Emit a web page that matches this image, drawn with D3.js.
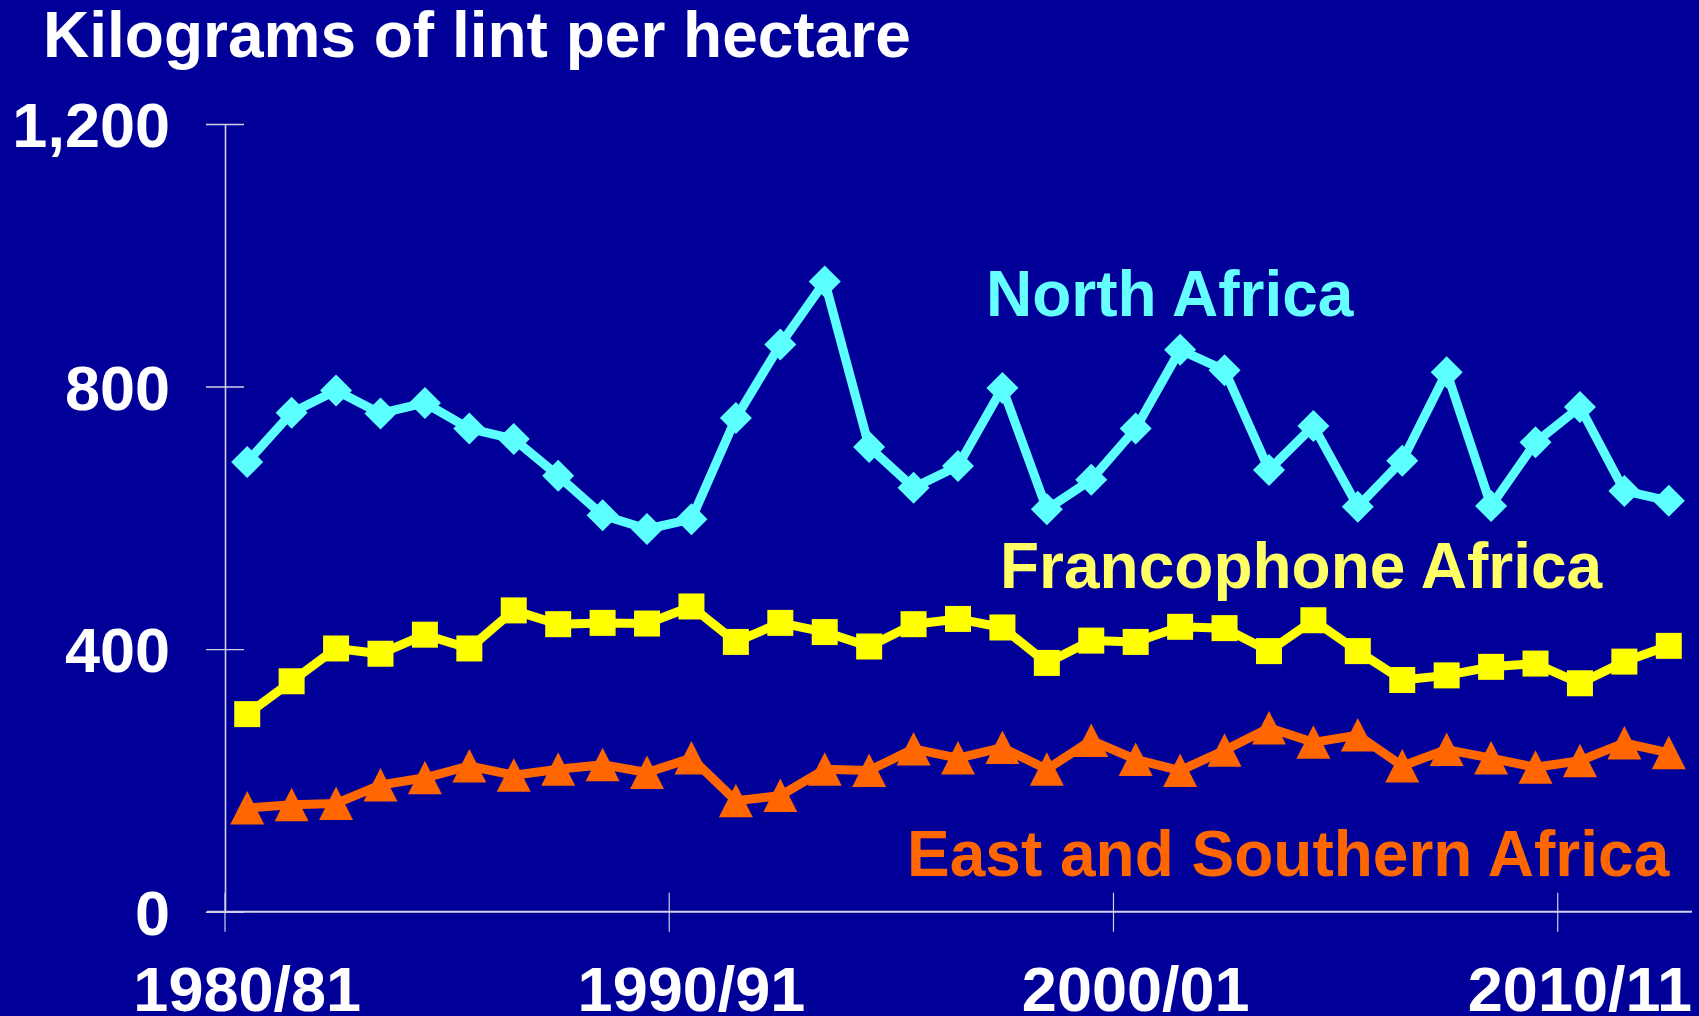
<!DOCTYPE html>
<html>
<head>
<meta charset="utf-8">
<script src="https://cdn.jsdelivr.net/npm/d3@7"></script>
<style>
  html, body { margin: 0; padding: 0; background: #000099; }
  svg { display: block; }
  text { font-family: "Liberation Sans", Arial, sans-serif; font-weight: bold; }
</style>
</head>
<body>
<svg id="viz"></svg>
<script>
const width = 1699;
const height = 1016;

const years = ["1980/81", "1981/82", "1982/83", "1983/84", "1984/85", "1985/86", "1986/87", "1987/88",
    "1988/89", "1989/90", "1990/91", "1991/92", "1992/93", "1993/94", "1994/95", "1995/96", "1996/97",
    "1997/98", "1998/99", "1999/00", "2000/01", "2001/02", "2002/03", "2003/04", "2004/05", "2005/06",
    "2006/07", "2007/08", "2008/09", "2009/10", "2010/11", "2011/12", "2012/13"];
const yearLabels = ["1980/81", "1990/91", "2000/01", "2010/11"];
const yTicks = [0, 400, 800, 1200];

const northAfrica = [685, 760, 794, 759, 775, 736, 720, 664, 604, 583, 598, 752, 864, 960, 708, 646, 679,
    798, 613, 658, 736, 856, 825, 673, 740, 617, 687, 822, 618, 715, 769, 641, 626];
const francophone = [301, 351, 401, 393, 422, 401, 459, 438, 440, 439, 465, 411, 440, 426, 404, 438, 446,
    433, 379, 413, 411, 434, 432, 397, 444, 397, 353, 360, 373, 378, 348, 381, 405];
const eastSouthern = [158, 163, 165, 193, 204, 222, 208, 217, 224, 212, 234, 169, 177, 217, 215, 248, 234,
    250, 217, 261, 232, 215, 246, 280, 258, 269, 222, 247, 234, 220, 230, 257, 242];

const series = [
    { name: "East and Southern Africa", values: eastSouthern, color: "#ff6600", text: "#ff6600", marker: "triangle", lx: 907, ly: 876 },
    { name: "Francophone Africa", values: francophone, color: "#ffff00", text: "#ffff66", marker: "square", lx: 1000, ly: 588 },
    { name: "North Africa", values: northAfrica, color: "#5cffff", text: "#66ffff", marker: "diamond", lx: 986, ly: 316 }
];

const x = d3.scaleBand().domain(years).range([225, 1691]);
const y = d3.scaleLinear().domain([0, 1200]).range([911.7, 124]);
const cx = d => x(d) + x.bandwidth() / 2;

const svg = d3.select("#viz").attr("width", width).attr("height", height);

svg.append("rect").attr("width", width).attr("height", height).attr("fill", "#000099");

// title
svg.append("text")
    .attr("x", 43).attr("y", 57)
    .attr("fill", "#ffffff").attr("font-size", 64)
    .text("Kilograms of lint per hectare");

const axisColor = "#d0d0e6";

// y axis, ticks cross the line
const yAxis = svg.append("g")
    .attr("transform", "translate(225,0)")
    .call(d3.axisLeft(y).tickValues(yTicks).tickFormat(d3.format(",")).tickSize(0).tickPadding(55));
yAxis.select(".domain").attr("stroke", axisColor).attr("stroke-width", 1.6);
yAxis.selectAll(".tick line").attr("x1", -19).attr("x2", 19).attr("stroke", axisColor).attr("stroke-width", 1.4);
yAxis.selectAll(".tick text")
    .attr("fill", "#ffffff").attr("font-size", 63)
    .attr("font-family", "Liberation Sans, Arial, sans-serif")
    .attr("dy", "0.36em");

// x axis, ticks sit on band edges, labels on band centres
const xAxis = svg.append("g")
    .attr("transform", "translate(0," + y(0) + ")")
    .call(d3.axisBottom(x).tickValues(yearLabels).tickSize(0).tickPadding(0).tickSizeOuter(0));
xAxis.select(".domain").attr("d", "M207,0H1692").attr("stroke", axisColor).attr("stroke-width", 2);
xAxis.selectAll(".tick line")
    .attr("x1", -x.bandwidth() / 2).attr("x2", -x.bandwidth() / 2)
    .attr("y1", -19).attr("y2", 20)
    .attr("stroke", axisColor).attr("stroke-width", 1.2);
xAxis.selectAll(".tick text")
    .attr("fill", "#ffffff").attr("font-size", 63)
    .attr("font-family", "Liberation Sans, Arial, sans-serif")
    .attr("y", 99).attr("dy", 0);

// marker shapes, sizes in px
function markerPath(type) {
    if (type === "diamond") return "M0,-16L16,0L0,16L-16,0Z";
    if (type === "square") return "M-13,-13H13V13H-13Z";
    return "M0,-17L17,16.5H-17Z";
}

const line = d3.line()
    .x((d, i) => cx(years[i]))
    .y(d => y(d));

series.forEach(function (s) {
    const g = svg.append("g");
    g.append("path")
        .datum(s.values)
        .attr("d", line)
        .attr("fill", "none")
        .attr("stroke", s.color)
        .attr("stroke-width", 9)
        .attr("stroke-linejoin", "round");
    g.selectAll("path.mark")
        .data(s.values)
        .enter()
        .append("path")
        .attr("class", "mark")
        .attr("d", markerPath(s.marker))
        .attr("transform", (d, i) => "translate(" + cx(years[i]) + "," + y(d) + ")")
        .attr("fill", s.color);
    svg.append("text")
        .attr("x", s.lx).attr("y", s.ly)
        .attr("fill", s.text).attr("font-size", 64)
        .text(s.name);
});
</script>
</body>
</html>
